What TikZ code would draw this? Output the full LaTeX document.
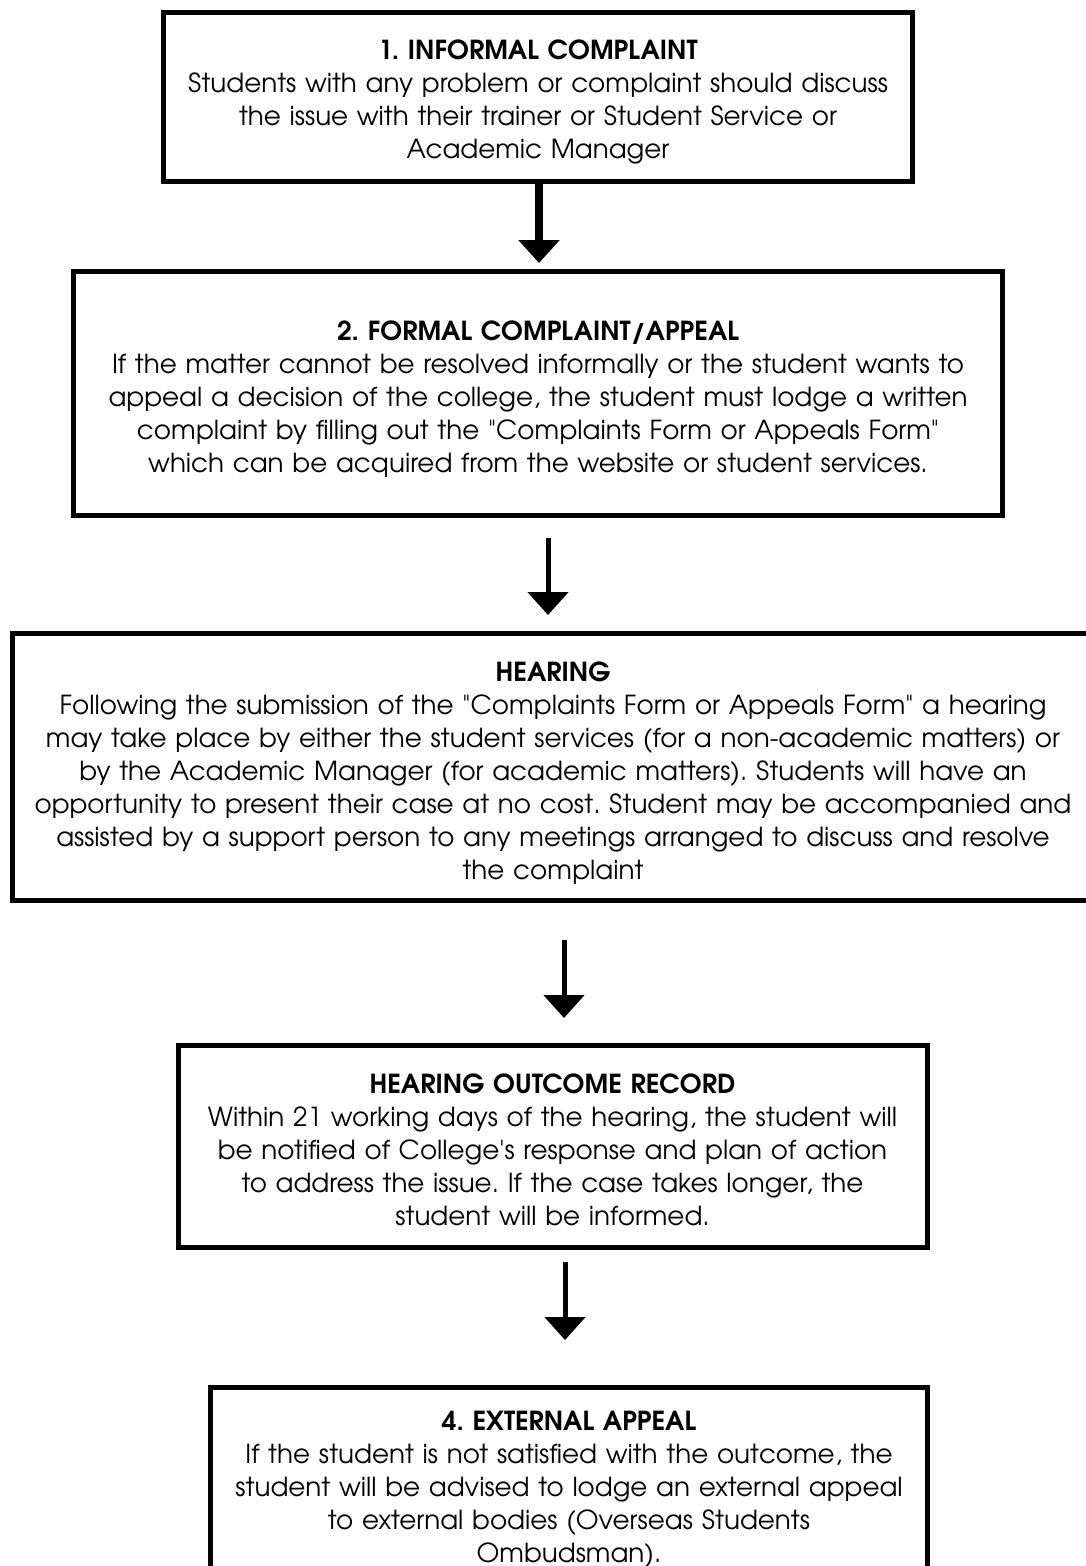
\documentclass[tikz,border=0pt]{standalone}
\usepackage{fontspec}
\setmainfont{TeX Gyre Adventor}[Ligatures=TeXOff]
\usetikzlibrary{arrows.meta}
\tikzset{
  stepbox/.style={draw=black, line width=5pt, fill=white, inner sep=0pt,
    align=center, font=\frenchspacing\fontsize{26.2}{33}\selectfont},
  flowarrow/.style={line width=5pt, -{Triangle[width=40pt,length=23pt]}},
  thickarrow/.style={line width=8pt, -{Triangle[width=40pt,length=23pt]}}
}
% optional argument: extra height (pt) added above the heading line,
% which moves the whole text block down by half of it
\newcommand{\boxhead}[2][0]{\rule{0pt}{\dimexpr 19.4pt+#1pt\relax}\textbf{#2}}
\begin{document}
\begin{tikzpicture}[x=1pt,y=-1pt]
\useasboundingbox (0,0) rectangle (1086,1566);
\fill[white] (0,0) rectangle (1086,1566);

\node[stepbox, minimum width=749pt, minimum height=169pt, text width=745pt] (b1) at (538,97)
 {\boxhead[11]{1. INFORMAL COMPLAINT}\\
  Students with any problem or complaint should discuss\\
  the issue with their trainer or Student Service or\\
  Academic Manager};

\node[stepbox, minimum width=929pt, minimum height=244pt, text width=925pt] (b2) at (538,393.5)
 {\boxhead[12]{2. FORMAL COMPLAINT/APPEAL}\\
  If the matter cannot be resolved informally or the student wants to\\
  appeal a decision of the college, the student must lodge a written\\
  complaint by filling out the "Complaints Form or Appeals Form"\\
  which can be acquired from the website or student services.};

\node[stepbox, minimum width=1082pt, minimum height=267pt, text width=1076pt] (b3) at (553,767)
 {\boxhead[13]{HEARING}\\
  Following the submission of the "Complaints Form or Appeals Form" a hearing\\
  may take place by either the student services (for a non-academic matters) or\\
  by the Academic Manager (for academic matters). Students will have an\\
  opportunity to present their case at no cost. Student may be accompanied and\\
  assisted by a support person to any meetings arranged to discuss and resolve\\
  the complaint};

\node[stepbox, minimum width=749pt, minimum height=202pt, text width=745pt] (b4) at (552.5,1146.5)
 {\boxhead[7]{HEARING OUTCOME RECORD}\\
  Within 21 working days of the hearing, the student will\\
  be notified of College's response and plan of action\\
  to address the issue. If the case takes longer, the\\
  student will be informed.};

\node[stepbox, minimum width=717pt, minimum height=205pt, text width=713pt, anchor=north] (b5) at (569,1384.5)
 {\boxhead{4. EXTERNAL APPEAL}\\
  If the student is not satisfied with the outcome, the\\
  student will be advised to lodge an external appeal\\
  to external bodies (Overseas Students\\
  Ombudsman).};

% arrows
\coordinate (x1) at (539,0);
\draw[thickarrow, shorten >=6pt] (b1.south -| x1) -- (b2.north -| x1);

\coordinate (a2s) at (548,538);
\coordinate (a2e) at (548,615);
\draw[flowarrow] (a2s) -- (a2e);

\coordinate (a3s) at (564,940);
\coordinate (a3e) at (564,1018);
\draw[flowarrow] (a3s) -- (a3e);

\coordinate (a4s) at (565,1262);
\coordinate (a4e) at (565,1340);
\draw[flowarrow] (a4s) -- (a4e);
\end{tikzpicture}
\end{document}
